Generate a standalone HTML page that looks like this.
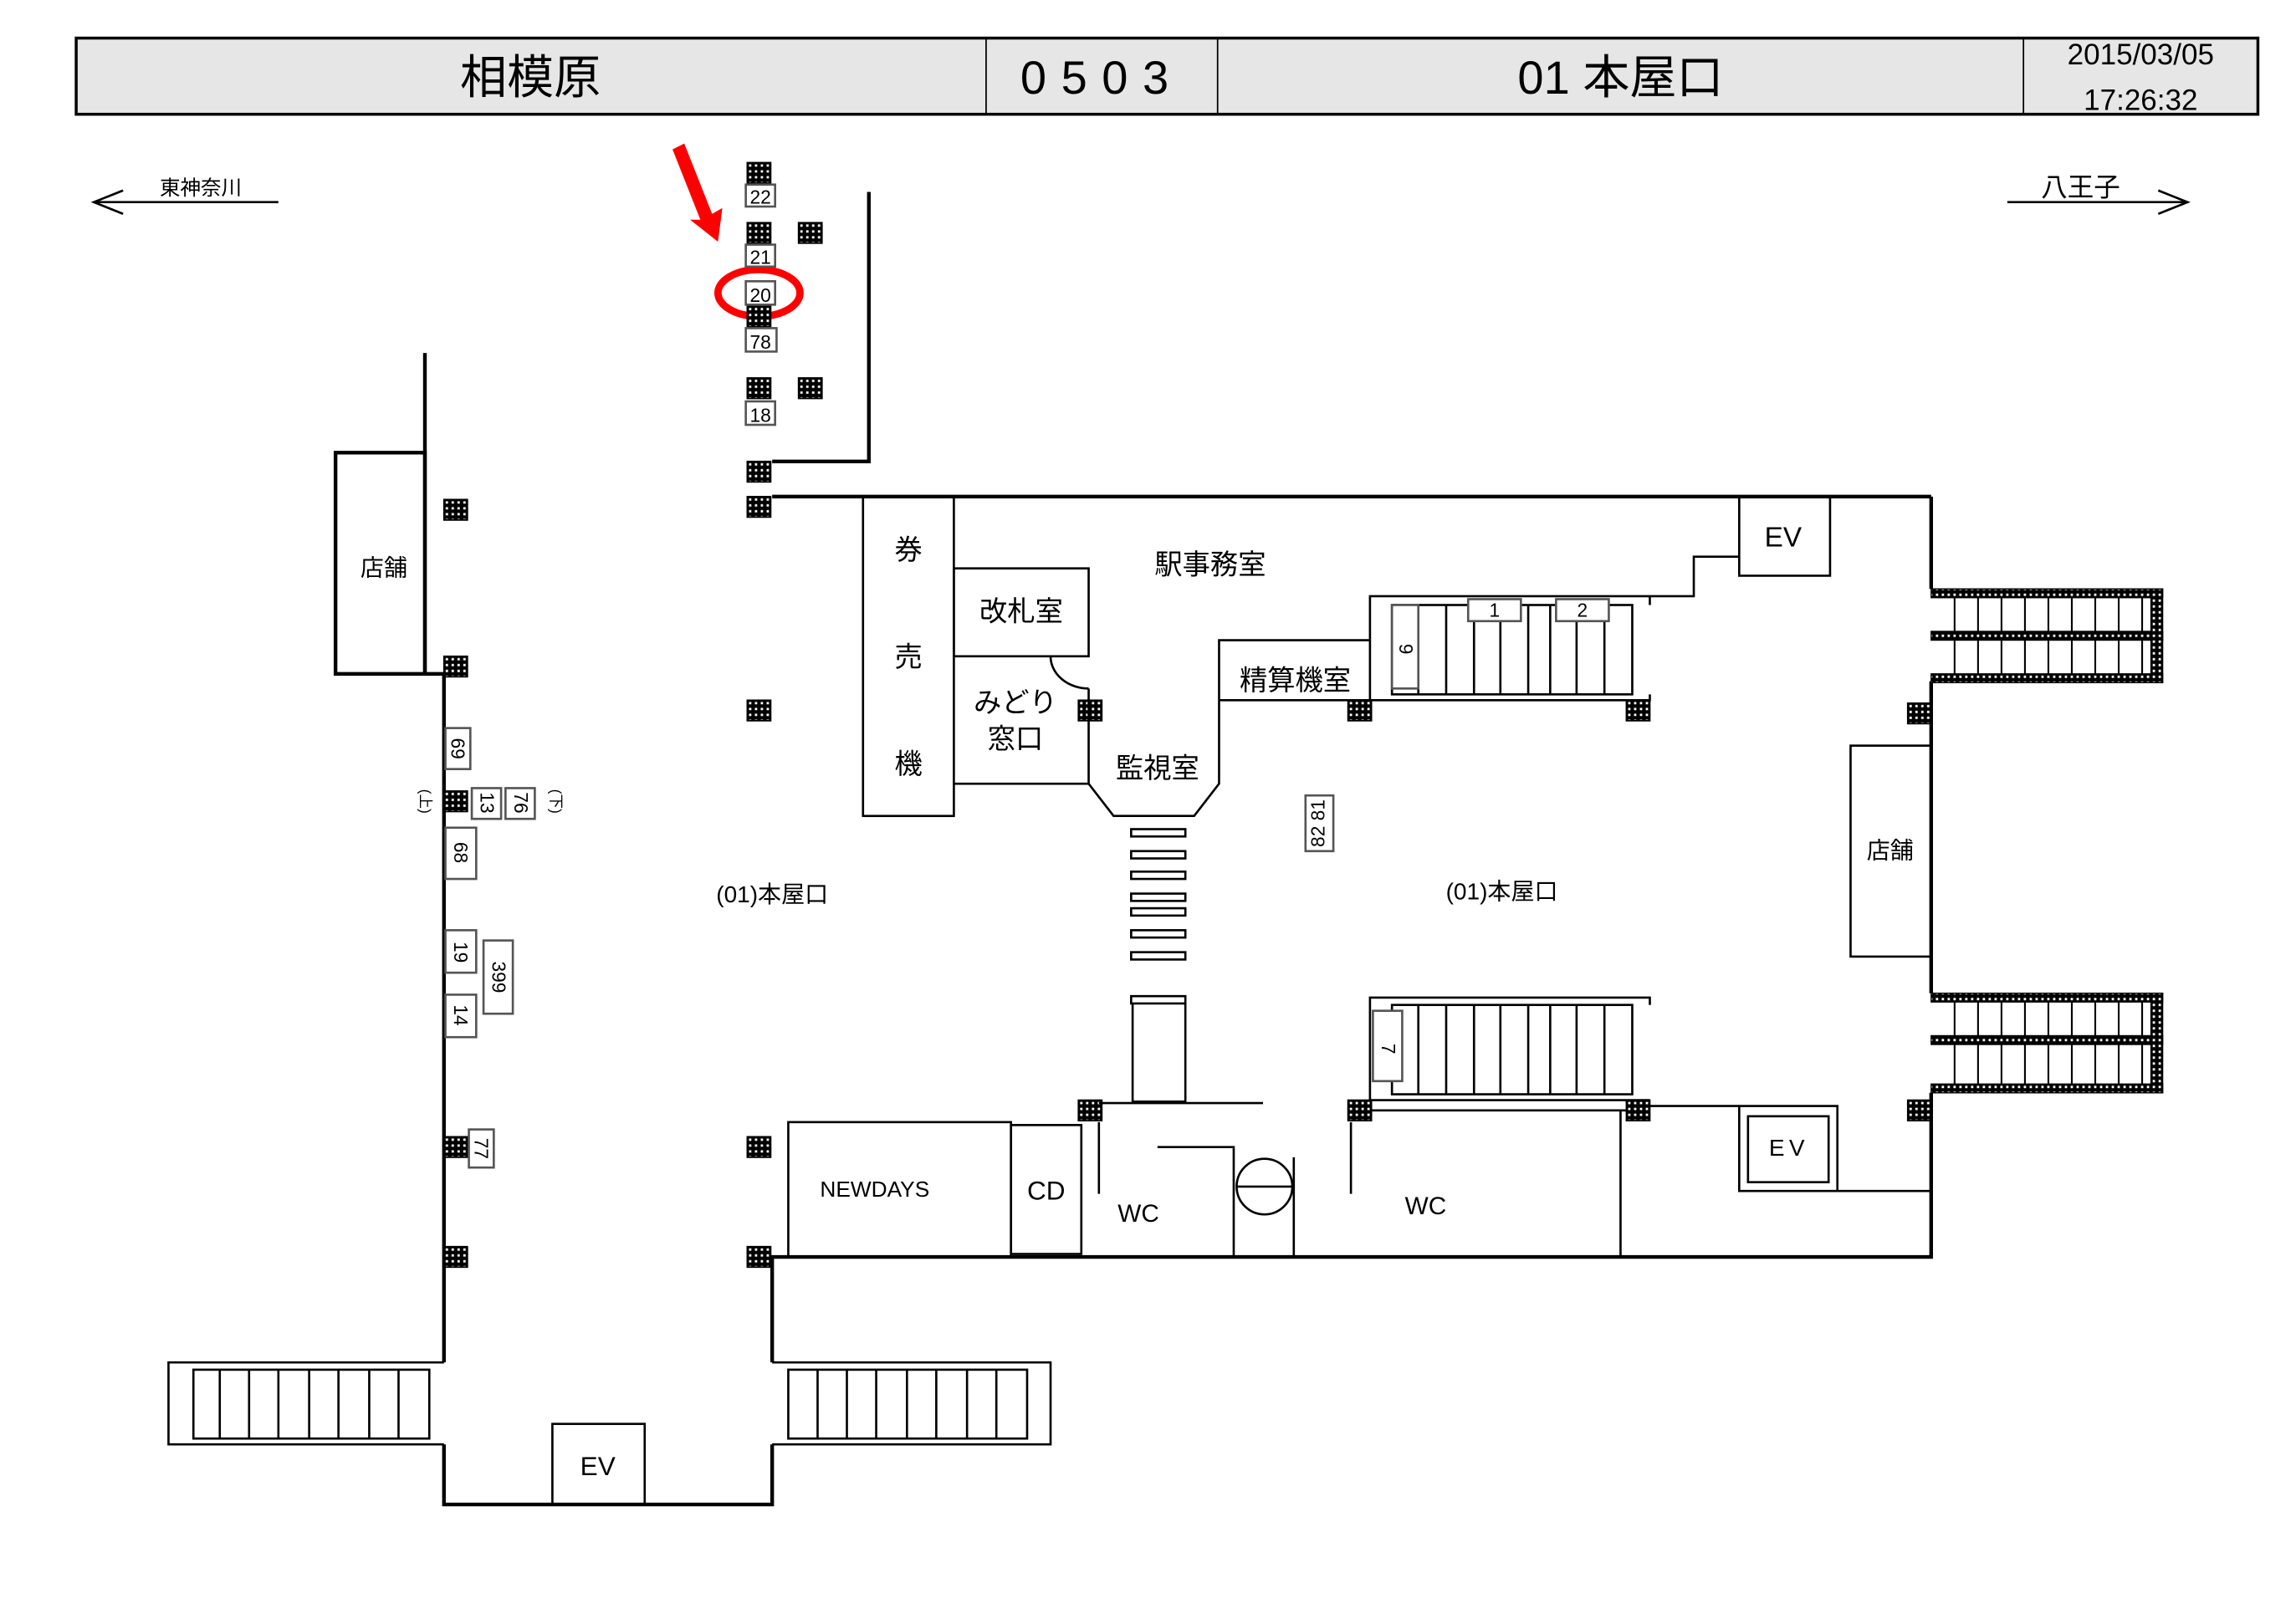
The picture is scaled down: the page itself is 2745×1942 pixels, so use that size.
<!DOCTYPE html>
<html><head><meta charset="utf-8">
<style>
html,body{margin:0;padding:0;background:#fff;}
svg{display:block;}
text{font-family:"Liberation Sans","Noto Sans CJK JP",sans-serif;fill:#000;}
</style></head>
<body>
<svg width="2745" height="1942" viewBox="0 0 1567 1108.6" preserveAspectRatio="none" xmlns="http://www.w3.org/2000/svg">
<defs>
<pattern id="dots" width="4" height="4" patternUnits="userSpaceOnUse">
<rect width="4" height="4" fill="#000"/><rect x="1.2" y="1.2" width="1.6" height="1.6" fill="#fff"/>
</pattern>
<g id="p"><rect x="0" y="0" width="16" height="14" fill="url(#dots)" stroke="#000" stroke-width="1"/></g>
</defs>
<rect width="1567" height="1109" fill="#fff"/>

<!-- header -->
<rect x="52" y="26" width="1489" height="52" fill="#e6e6e6" stroke="#000" stroke-width="2"/>
<line x1="673" y1="26" x2="673" y2="78" stroke="#000" stroke-width="1"/>
<line x1="831" y1="26" x2="831" y2="78" stroke="#000" stroke-width="1"/>
<line x1="1381" y1="26" x2="1381" y2="78" stroke="#000" stroke-width="1"/>
<text x="362" y="64" font-size="32" text-anchor="middle">相模原</text>
<text x="752" y="64" font-size="32" text-anchor="middle" letter-spacing="10">0503</text>
<text x="1106" y="64" font-size="32" text-anchor="middle">01 本屋口</text>
<text x="1461" y="44" font-size="20" text-anchor="middle">2015/03/05</text>
<text x="1461" y="75" font-size="20" text-anchor="middle">17:26:32</text>

<!-- direction arrows -->
<g stroke="#000" stroke-width="1.5" fill="none">
<line x1="64" y1="138" x2="190" y2="138"/><polyline points="84,130 64,138 84,146"/>
<line x1="1370" y1="138" x2="1493" y2="138"/><polyline points="1473,130 1493,138 1473,146"/>
</g>
<text x="137" y="133" font-size="14" text-anchor="middle">東神奈川</text>
<text x="1420" y="134" font-size="18" text-anchor="middle">八王子</text>

<!-- red marker -->
<polygon points="459,102 467,98 486,146 493,142 490,165 471,150 478,150" fill="#f00"/>
<ellipse cx="518" cy="200" rx="28" ry="16" fill="none" stroke="#f00" stroke-width="5"/>

<!-- walls -->
<g stroke="#000" stroke-width="2.5" fill="none">
<polyline points="593,131 593,315 527,315"/>
<line x1="527" y1="339" x2="1318" y2="339"/>
<polyline points="1318,339 1318,402"/>
<polyline points="1318,465 1318,678"/>
<polyline points="1318,746 1318,858 527,858 527,930"/>
<line x1="290" y1="241" x2="290" y2="460"/>
<rect x="229" y="309" width="61" height="151"/>
<polyline points="290,460 303,460 303,930"/>
<polyline points="303,986 303,1027 527,1027 527,986"/>
</g>
<text x="262" y="393" font-size="16" text-anchor="middle">店舗</text>

<!-- pillars -->
<use href="#p" x="510" y="111"/><use href="#p" x="510" y="152"/><use href="#p" x="545" y="152"/>
<use href="#p" x="510" y="209"/><use href="#p" x="510" y="258"/><use href="#p" x="545" y="258"/>
<use href="#p" x="510" y="315"/><use href="#p" x="510" y="339"/><use href="#p" x="510" y="478"/>
<use href="#p" x="510" y="776"/><use href="#p" x="510" y="851"/>
<use href="#p" x="303" y="341"/><use href="#p" x="303" y="448"/><use href="#p" x="303" y="540"/>
<use href="#p" x="303" y="776"/><use href="#p" x="303" y="851"/>
<use href="#p" x="736" y="478"/><use href="#p" x="920" y="478"/><use href="#p" x="1110" y="478"/>
<use href="#p" x="1302" y="480"/><use href="#p" x="736" y="751"/><use href="#p" x="920" y="751"/>
<use href="#p" x="1110" y="751"/><use href="#p" x="1302" y="751"/>

<!-- number labels top column -->
<g fill="#fff" stroke="#555" stroke-width="1.5">
<rect x="509" y="126" width="20" height="15"/><rect x="509" y="167" width="20" height="15"/>
<rect x="509" y="192" width="20" height="16"/><rect x="509" y="224" width="21" height="16"/>
<rect x="509" y="274" width="20" height="16"/>
</g>
<g font-size="13" text-anchor="middle">
<text x="519" y="139">22</text><text x="519" y="180">21</text><text x="519" y="206">20</text>
<text x="519" y="238">78</text><text x="519" y="288">18</text>
</g>

<!-- left column rotated labels -->
<g fill="#fff" stroke="#555" stroke-width="1.5">
<rect x="304" y="497" width="17" height="28"/>
<rect x="322" y="538" width="20" height="21"/><rect x="345" y="538" width="20" height="21"/>
<rect x="304" y="565" width="21" height="35"/>
<rect x="304" y="635" width="21" height="29"/><rect x="330" y="642" width="20" height="50"/>
<rect x="304" y="679" width="21" height="29"/>
<rect x="320" y="771" width="17" height="26"/>
</g>
<g font-size="13" text-anchor="middle">
<text transform="translate(312,511) rotate(90)" y="4">69</text>
<text transform="translate(332,548) rotate(90)" y="4">13</text>
<text transform="translate(355,548) rotate(90)" y="4">76</text>
<text transform="translate(314,582) rotate(90)" y="4">68</text>
<text transform="translate(314,650) rotate(90)" y="4">19</text>
<text transform="translate(340,667) rotate(90)" y="4">399</text>
<text transform="translate(314,693) rotate(90)" y="4">14</text>
<text transform="translate(328,784) rotate(90)" y="4">77</text>
</g>
<g font-size="10" text-anchor="middle">
<text transform="translate(290,547) rotate(90)" y="3">(上)</text>
<text transform="translate(379,547) rotate(90)" y="3">(下)</text>
</g>

<!-- bottom left stairs -->
<g stroke="#000" stroke-width="1.5" fill="none">
<polyline points="303,930 115,930 115,986 303,986"/>
<rect x="132" y="935" width="161" height="47"/>
<line x1="150" y1="935" x2="150" y2="982"/><line x1="170" y1="935" x2="170" y2="982"/>
<line x1="190" y1="935" x2="190" y2="982"/><line x1="211" y1="935" x2="211" y2="982"/>
<line x1="231" y1="935" x2="231" y2="982"/><line x1="252" y1="935" x2="252" y2="982"/>
<line x1="272" y1="935" x2="272" y2="982"/>
<polyline points="527,930 717,930 717,986 527,986"/>
<rect x="538" y="935" width="163" height="47"/>
<line x1="558" y1="935" x2="558" y2="982"/><line x1="578" y1="935" x2="578" y2="982"/>
<line x1="598" y1="935" x2="598" y2="982"/><line x1="619" y1="935" x2="619" y2="982"/>
<line x1="639" y1="935" x2="639" y2="982"/><line x1="660" y1="935" x2="660" y2="982"/>
<line x1="680" y1="935" x2="680" y2="982"/>
<rect x="377" y="972" width="63" height="55"/>
</g>
<text x="408" y="1007" font-size="18" text-anchor="middle">EV</text>

<!-- building interior -->
<g stroke="#000" stroke-width="1.5" fill="none">
<rect x="589" y="339" width="62" height="218"/>
<rect x="651" y="388" width="92" height="60"/>
<polyline points="651,535 743,535 743,470"/>
<path d="M717,448 A26,22 0 0 0 743,470"/>
<polyline points="743,535 760,557 815,557 832,535 832,437 935,437"/>
<line x1="832" y1="478" x2="935" y2="478"/>
<polyline points="935,478 935,407 1126,407 1126,413"/>
<polyline points="1126,407 1156,407 1156,380 1187,380"/>
<rect x="1187" y="339" width="62" height="54"/>
<polyline points="1126,474 1126,478 935,478"/>
<rect x="950" y="413" width="164" height="61"/>
<line x1="968" y1="413" x2="968" y2="474"/><line x1="987" y1="413" x2="987" y2="474"/>
<line x1="1006" y1="413" x2="1006" y2="474"/><line x1="1024" y1="413" x2="1024" y2="474"/>
<line x1="1043" y1="413" x2="1043" y2="474"/><line x1="1058" y1="413" x2="1058" y2="474"/>
<line x1="1076" y1="413" x2="1076" y2="474"/><line x1="1095" y1="413" x2="1095" y2="474"/>
<polyline points="935,751 935,681 1126,681 1126,686"/>
<line x1="935" y1="751" x2="1126" y2="751"/>
<rect x="950" y="686" width="164" height="61"/>
<line x1="968" y1="686" x2="968" y2="747"/><line x1="987" y1="686" x2="987" y2="747"/>
<line x1="1006" y1="686" x2="1006" y2="747"/><line x1="1024" y1="686" x2="1024" y2="747"/>
<line x1="1043" y1="686" x2="1043" y2="747"/><line x1="1058" y1="686" x2="1058" y2="747"/>
<line x1="1076" y1="686" x2="1076" y2="747"/><line x1="1095" y1="686" x2="1095" y2="747"/>
<rect x="1263" y="509" width="55" height="144"/>
<rect x="772" y="566" width="37" height="5"/><rect x="772" y="581" width="37" height="5"/>
<rect x="772" y="595" width="37" height="5"/><rect x="772" y="610" width="37" height="5"/>
<rect x="772" y="620" width="37" height="5"/><rect x="772" y="635" width="37" height="5"/>
<rect x="772" y="650" width="37" height="5"/><rect x="772" y="680" width="37" height="5"/>
<polyline points="773,685 773,752 809,752 809,685"/>
<line x1="750" y1="753" x2="862" y2="753"/>
<rect x="538" y="766" width="152" height="92"/>
<rect x="690" y="768" width="48" height="88"/>
<line x1="750" y1="766" x2="750" y2="815"/>
<polyline points="790,783 842,783 842,858"/>
<circle cx="863" cy="810" r="19"/><line x1="844" y1="810" x2="882" y2="810"/>
<line x1="883" y1="790" x2="883" y2="858"/>
<line x1="922" y1="766" x2="922" y2="815"/>
<line x1="935" y1="758" x2="1110" y2="758"/>
<line x1="1106" y1="758" x2="1106" y2="858"/>
<line x1="1126" y1="755" x2="1187" y2="755"/>
<rect x="1187" y="755" width="67" height="58"/>
<rect x="1193" y="762" width="55" height="45"/>
<line x1="1254" y1="813" x2="1318" y2="813"/>
</g>
<!-- escalators right -->
<g>
<g fill="url(#dots)" stroke="#000" stroke-width="0.8">
<rect x="1318" y="402" width="158" height="6"/><rect x="1318" y="431" width="158" height="6"/>
<rect x="1318" y="460" width="158" height="6"/><rect x="1468" y="402" width="8" height="64"/>
<rect x="1318" y="678" width="158" height="6"/><rect x="1318" y="707" width="158" height="6"/>
<rect x="1318" y="740" width="158" height="6"/><rect x="1468" y="678" width="8" height="68"/>
</g>
<g stroke="#000" stroke-width="1.2">
<path d="M1334,408V431M1350,408V431M1366,408V431M1382,408V431M1398,408V431M1414,408V431M1430,408V431M1446,408V431M1462,408V431"/>
<path d="M1334,437V460M1350,437V460M1366,437V460M1382,437V460M1398,437V460M1414,437V460M1430,437V460M1446,437V460M1462,437V460"/>
<path d="M1334,684V707M1350,684V707M1366,684V707M1382,684V707M1398,684V707M1414,684V707M1430,684V707M1446,684V707M1462,684V707"/>
<path d="M1334,713V740M1350,713V740M1366,713V740M1382,713V740M1398,713V740M1414,713V740M1430,713V740M1446,713V740M1462,713V740"/>
</g>
</g>

<!-- small gray boxes inside -->
<g fill="#fff" stroke="#555" stroke-width="1.5">
<rect x="1002" y="409" width="36" height="15"/><rect x="1062" y="409" width="36" height="15"/>
<rect x="950" y="413" width="18" height="57"/>
<rect x="937" y="690" width="20" height="48"/>
<rect x="891" y="543" width="19" height="38"/>
</g>
<g font-size="13" text-anchor="middle">
<text x="1020" y="421">1</text><text x="1080" y="421">2</text>
<text transform="translate(959,443) rotate(90)" y="4">9</text>
<text transform="translate(947,716) rotate(90)" y="4">7</text>
<text transform="translate(900,562) rotate(-90)" y="4">82 81</text>
</g>

<!-- labels -->
<g font-size="19" text-anchor="middle">
<text x="620" y="382">券</text><text x="620" y="455">売</text><text x="620" y="528">機</text>
<text x="697" y="424">改札室</text>
<text x="693" y="486">みどり</text><text x="693" y="511">窓口</text>
<text x="826" y="392">駅事務室</text>
<text x="790" y="531">監視室</text>
<text x="884" y="471">精算機室</text>
<text x="1217" y="373">EV</text>
</g>
<text x="1290" y="586" font-size="16" text-anchor="middle">店舗</text>
<text x="527" y="616" font-size="16" text-anchor="middle">(01)本屋口</text>
<text x="1025" y="614" font-size="16" text-anchor="middle">(01)本屋口</text>
<text x="597" y="817" font-size="15" text-anchor="middle">NEWDAYS</text>
<text x="714" y="819" font-size="18" text-anchor="middle">CD</text>
<text x="777" y="834" font-size="17" text-anchor="middle">WC</text>
<text x="973" y="829" font-size="17" text-anchor="middle">WC</text>
<text x="1221" y="789" font-size="16" text-anchor="middle" letter-spacing="3">EV</text>
</svg>
</body></html>
